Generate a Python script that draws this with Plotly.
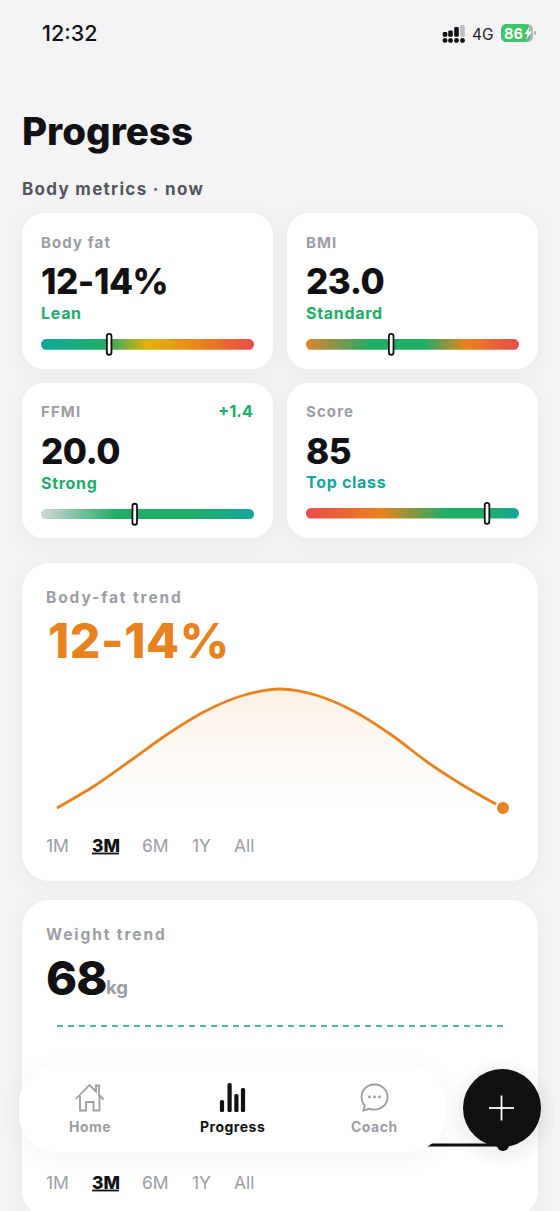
import numpy as np
import plotly.graph_objects as go

W, H = 560, 1211
FONT = "Inter"
INK = "#111113"
GREY = "#9d9da5"
GREEN = "#20ad67"
TEAL = "#12a69c"
ORANGE = "#e8821e"

# metric cards
metric_names = ["Body fat", "BMI", "FFMI", "Score"]
metric_values = ["12-14%", "23.0", "20.0", "85"]
metric_status = ["Lean", "Standard", "Strong", "Top class"]
metric_status_color = [GREEN, GREEN, GREEN, TEAL]
metric_marker = [32, 40, 44, 85]
metric_scales = [
    [[0, "#12a69c"], [0.3, "#22ad66"], [0.5, "#e6b00c"], [0.75, "#e8821e"], [1, "#e84c4c"]],
    [[0, "#dc8430"], [0.3, "#22ad66"], [0.55, "#22ad66"], [0.75, "#e8821e"], [1, "#e84c4c"]],
    [[0, "#d2d6d8"], [0.35, "#22ad66"], [0.7, "#22ad66"], [1, "#12a69c"]],
    [[0, "#e84c4c"], [0.35, "#e8821e"], [0.65, "#22ad66"], [0.85, "#22ad66"], [1, "#12a69c"]],
]

# trend charts
weeks = list(range(13))
fat_trend = [13.0, 13.44, 13.96, 14.49, 14.94, 15.25, 15.38, 15.25, 14.93, 14.46, 13.9, 13.42, 13.0]
weight_trend = [68] * 13
weight_target = [70] * 13
range_tabs = ["1M", "3M", "6M", "1Y", "All"]
tab_x = [45.5, 91.5, 141.5, 191.5, 234]
nav_labels = ["Home", "Progress", "Coach"]
nav_x = [89.5, 232, 374.5]
nav_bars = [222, 229.6, 236.4, 243]
nav_bar_top = [1100, 1083, 1094, 1088]


def rrect(x0, y0, x1, y1, r):
    k = r * 0.45
    return (f"M{x0+r},{y0} L{x1-r},{y0} C{x1-k},{y0} {x1},{y0+k} {x1},{y0+r} "
            f"L{x1},{y1-r} C{x1},{y1-k} {x1-k},{y1} {x1-r},{y1} "
            f"L{x0+r},{y1} C{x0+k},{y1} {x0},{y1-k} {x0},{y1-r} "
            f"L{x0},{y0+r} C{x0},{y0+k} {x0+k},{y0} {x0+r},{y0} Z")


def xdom(a, b):
    return [a / W, b / W]


def ydom(top, bottom):
    return [1 - bottom / H, 1 - top / H]


shapes = []
notes = []


def box(x0, y0, x1, y1, r, color, layer="below", shadow=0.0):
    if shadow:
        for s in [16, 12, 8, 5, 2]:
            shapes.append(dict(type="path", path=rrect(x0 - s, y0 - s + 4, x1 + s, y1 + s + 4, r + s), xref="x", yref="y",
                               fillcolor=f"rgba(30,30,50,{shadow})", line_width=0, layer=layer))
    shapes.append(dict(type="path", path=rrect(x0, y0, x1, y1, r), xref="x", yref="y",
                       fillcolor=color, line_width=0, layer=layer))


def text(x, y, s, size, color, weight=400, anchor="left", spacing=0):
    if spacing:
        s = f'<span style="letter-spacing:{spacing}px">{s}</span>'
    if anchor == "left":
        x -= 0.8
    notes.append(dict(x=x, y=y, xref="x", yref="y", text=s, showarrow=False, xanchor=anchor, yanchor="middle",
                      borderpad=0, font=dict(family=FONT, size=size, color=color, weight=weight)))


fig = go.Figure()

# page and status bar
text(41.5, 33, "12:32", 21.5, INK, 500)
text(471.5, 34, "4G", 15.5, "#222", 400)
for cx, top, col in zip([445, 450.5, 456.5, 462.5], [32, 30.5, 27, 25], ["#111", "#111", "#111", "#bdbdc2"]):
    box(cx - 2.3, top, cx + 2.3, 36.8, 1.4, col)
for cx in [445, 450.5, 456.5, 462.5]:
    box(cx - 2.4, 38, cx + 2.4, 42.8, 2.4, "#111")
box(501, 24, 533, 42, 5.5, "#b4b5b8")
box(501, 24, 530, 42, 5.5, "#3fc468")
box(534, 31, 536, 35, 1, "#b4b5b8")
text(503.5, 33, "86", 14.5, "white", 700)
shapes.append(dict(type="path", path="M530,26 L524.5,34 L527.5,34 L526,40 L532,31.5 L528.5,31.5 Z", xref="x", yref="y",
                   fillcolor="white", line_width=0))
text(21.5, 131, "Progress", 38.5, INK, 800)
text(21.5, 189, "Body metrics · now", 17, "#55555c", 700, spacing=1.3)

# metric cards
card_x = [(22, 273), (287, 538), (22, 273), (287, 538)]
card_y = [(213, 369), (213, 369), (383, 538), (383, 538)]
bar_y = [(339, 349.8), (339, 349.8), (509, 519.5), (508, 518.6)]
for i in range(4):
    x0, x1 = card_x[i]
    y0, y1 = card_y[i]
    box(x0, y0, x1, y1, 22, "white", shadow=0.0035)
    row = 29 if i < 2 else 28
    text(x0 + 18.5, y0 + row, metric_names[i], 15, GREY, 700, spacing=1.1)
    text(x0 + 18.5, y0 + 68, metric_values[i], 35, INK, 800, spacing=-0.45)
    text(x0 + 18.5, y0 + (99 if i == 3 else 100), metric_status[i], 16, metric_status_color[i], 700, spacing=0.7)
text(253.5, 411, "+1.4", 16.5, GREEN, 700, anchor="right")

# body-fat and weight cards
for top in [563, 900]:
    box(22, top, 538, top + 318, 28, "white", shadow=0.0035)

for i in range(4):
    n = i + 2
    bx0 = card_x[i][0] + 19
    bx1 = bx0 + 213
    by0, by1 = bar_y[i]
    r = (by1 - by0) / 2
    fig.add_trace(go.Heatmap(x=np.linspace(0, 100, 101), y=[0, 1], z=[np.linspace(0, 100, 101)] * 2,
                             colorscale=metric_scales[i], zmin=0, zmax=100, zsmooth="best", showscale=False,
                             hoverinfo="skip", xaxis=f"x{n}", yaxis=f"y{n}"))
    fig.layout[f"xaxis{n}"] = dict(domain=xdom(bx0, bx1), range=[0, 100], visible=False, anchor=f"y{n}", fixedrange=True)
    fig.layout[f"yaxis{n}"] = dict(domain=ydom(by0, by1), range=[0, 1], visible=False, anchor=f"x{n}", fixedrange=True)
    # white corners round the ends of the heatmap strip
    k = r * 0.45
    for ex, sx in [(bx0, 1), (bx1, -1)]:
        for ey, sy in [(by0, 1), (by1, -1)]:
            p = (f"M{ex},{ey} L{ex+sx*r},{ey} C{ex+sx*k},{ey} {ex},{ey+sy*k} {ex},{ey+sy*r} Z")
            shapes.append(dict(type="path", path=p, xref="x", yref="y", fillcolor="white", line_width=0))
    # marker pill
    mid = (by0 + by1) / 2
    pill = rrect(-2.3, mid - 10.5, 2.3, mid + 10.5, 2.3)
    shapes.append(dict(type="path", path=pill, xref=f"x{n}", yref="y", xsizemode="pixel", xanchor=metric_marker[i],
                       fillcolor="white", line=dict(color="#111", width=1.8)))

# body-fat trend (axes padded by 10px, lines get clipped at the plot area)
text(45.5, 597, "Body-fat trend", 15.5, GREY, 700, spacing=1.9)
text(47.5, 640, "12-14%", 48, ORANGE, 800, spacing=0.6)
fig.add_trace(go.Scatter(x=weeks, y=[min(fat_trend)] * 13, mode="lines", line=dict(width=0, color="rgba(0,0,0,0)"),
                         hoverinfo="skip", xaxis="x6", yaxis="y6", cliponaxis=False))
fig.add_trace(go.Scatter(x=weeks, y=fat_trend, mode="lines", line=dict(color=ORANGE, width=2.8, shape="spline", smoothing=1),
                         fill="tonexty",
                         fillgradient=dict(type="vertical", start=max(fat_trend), stop=min(fat_trend),
                                           colorscale=[[0, "rgba(232,130,30,0.12)"], [0.5, "rgba(232,130,30,0.045)"], [1, "rgba(232,130,30,0)"]]),
                         hoverinfo="skip", xaxis="x6", yaxis="y6", cliponaxis=False))
fig.add_trace(go.Scatter(x=weeks[-1:], y=fat_trend[-1:], mode="markers",
                         marker=dict(color=ORANGE, size=14, line=dict(color="white", width=2)),
                         hoverinfo="skip", xaxis="x6", yaxis="y6", cliponaxis=False))
pad_x = 10 / (446 / 12)
pad_fat = 10 * (max(fat_trend) - min(fat_trend)) / 119
fig.layout.xaxis6 = dict(domain=xdom(47, 513), range=[-pad_x, 12 + pad_x], visible=False, anchor="y6", fixedrange=True)
fig.layout.yaxis6 = dict(domain=ydom(679, 818), range=[min(fat_trend) - pad_fat, max(fat_trend) + pad_fat],
                         visible=False, anchor="x6", fixedrange=True)

# weight trend
text(45.5, 934, "Weight trend", 15.5, GREY, 700, spacing=1.9)
text(45.5, 977, "68", 47, INK, 800, spacing=-0.8)
text(105.5, 987, "kg", 18.5, GREY, 700)
fig.add_trace(go.Scatter(x=weeks, y=weight_target, mode="lines", line=dict(color="#12a36a", width=1.4, dash="6px,5px"),
                         hoverinfo="skip", xaxis="x7", yaxis="y7", cliponaxis=False))
fig.add_trace(go.Scatter(x=weeks, y=weight_trend, mode="lines", line=dict(color=INK, width=3),
                         hoverinfo="skip", xaxis="x7", yaxis="y7", cliponaxis=False))
fig.add_trace(go.Scatter(x=weeks[-1:], y=weight_trend[-1:], mode="markers", marker=dict(color=INK, size=12),
                         hoverinfo="skip", xaxis="x7", yaxis="y7", cliponaxis=False))
pad_w = 10 * 2 / 119
fig.layout.xaxis7 = dict(domain=xdom(47, 513), range=[-pad_x, 12 + pad_x], visible=False, anchor="y7", fixedrange=True)
fig.layout.yaxis7 = dict(domain=ydom(1016, 1155), range=[68 - pad_w, 70 + pad_w], visible=False, anchor="x7", fixedrange=True)

# range tabs
for base in [845.5, 1182.5]:
    for j, tab in enumerate(range_tabs):
        active = j == 1
        text(tab_x[j], base, tab, 17.5, INK if active else GREY, 800 if active else 400)
    shapes.append(dict(type="line", x0=92, x1=119, y0=base + 8, y1=base + 8, xref="x", yref="y",
                       line=dict(color=INK, width=1.8)))

# bottom nav, drawn over the weight chart
box(19, 1065, 446, 1152, 38, "white", layer="above", shadow=0.0025)
for lab, lx, on in zip(nav_labels, nav_x, [False, True, False]):
    text(lx, 1126.5, lab, 14, INK if on else GREY, 700, anchor="center", spacing=0.5)
shapes.append(dict(type="path", xref="x", yref="y", layer="above", fillcolor="rgba(0,0,0,0)",
                   line=dict(color=GREY, width=1.8),
                   path="M76,1099 L89.5,1085 L96,1091.5 L96,1085.5 L99,1085.5 L99,1095 L103.5,1099.5 "
                        "M80,1096 L80,1110.5 L86,1110.5 L86,1102 L93.5,1102 L93.5,1110.5 L99.5,1110.5 L99.5,1096"))
for bx, bt in zip(nav_bars, nav_bar_top):
    shapes.append(dict(type="path", xref="x", yref="y", layer="above", fillcolor=INK, line_width=0,
                       path=rrect(bx - 2.1, bt, bx + 2.1, 1112, 1.6)))
shapes.append(dict(type="path", xref="x", yref="y", layer="above", fillcolor="white", line=dict(color=GREY, width=1.8),
                   path="M374.5,1084.5 C367,1084.5 361.5,1090 361.5,1097 C361.5,1100.5 362.8,1103.5 364.8,1105.8 "
                        "L363.5,1110.5 L369.5,1108.8 C371,1109.3 372.8,1109.6 374.5,1109.6 "
                        "C382,1109.6 387.5,1104 387.5,1097 C387.5,1090 382,1084.5 374.5,1084.5 Z"))
for dx in [369.5, 374.5, 379.5]:
    shapes.append(dict(type="circle", xref="x", yref="y", layer="above", x0=dx - 1.4, x1=dx + 1.4, y0=1095.6, y1=1098.4,
                       fillcolor=GREY, line_width=0))

# add button
for s in [14, 10, 6, 3]:
    shapes.append(dict(type="circle", xref="x", yref="y", layer="above", x0=463 - s, x1=541 + s, y0=1069 - s + 5, y1=1147 + s + 5,
                       fillcolor="rgba(0,0,0,0.012)", line_width=0))
shapes.append(dict(type="circle", xref="x", yref="y", layer="above", x0=463, x1=541, y0=1069, y1=1147,
                   fillcolor=INK, line_width=0))
shapes.append(dict(type="line", xref="x", yref="y", layer="above", x0=489, x1=514, y0=1108, y1=1108, line=dict(color="white", width=1.8)))
shapes.append(dict(type="line", xref="x", yref="y", layer="above", x0=501.5, x1=501.5, y0=1095.5, y1=1120.5, line=dict(color="white", width=1.8)))

fig.update_layout(
    width=W, height=H, margin=dict(l=0, r=0, t=0, b=0), paper_bgcolor="#f4f4f7", plot_bgcolor="rgba(0,0,0,0)",
    showlegend=False, hovermode=False, shapes=shapes, annotations=notes,
    xaxis=dict(domain=[0, 1], range=[0, W], visible=False, fixedrange=True),
    yaxis=dict(domain=[0, 1], range=[H, 0], visible=False, fixedrange=True),
)
fig.write_html("out.html", config={"displayModeBar": False, "staticPlot": True},
               post_script="document.body.style.margin='0';document.body.style.overflow='hidden';")
